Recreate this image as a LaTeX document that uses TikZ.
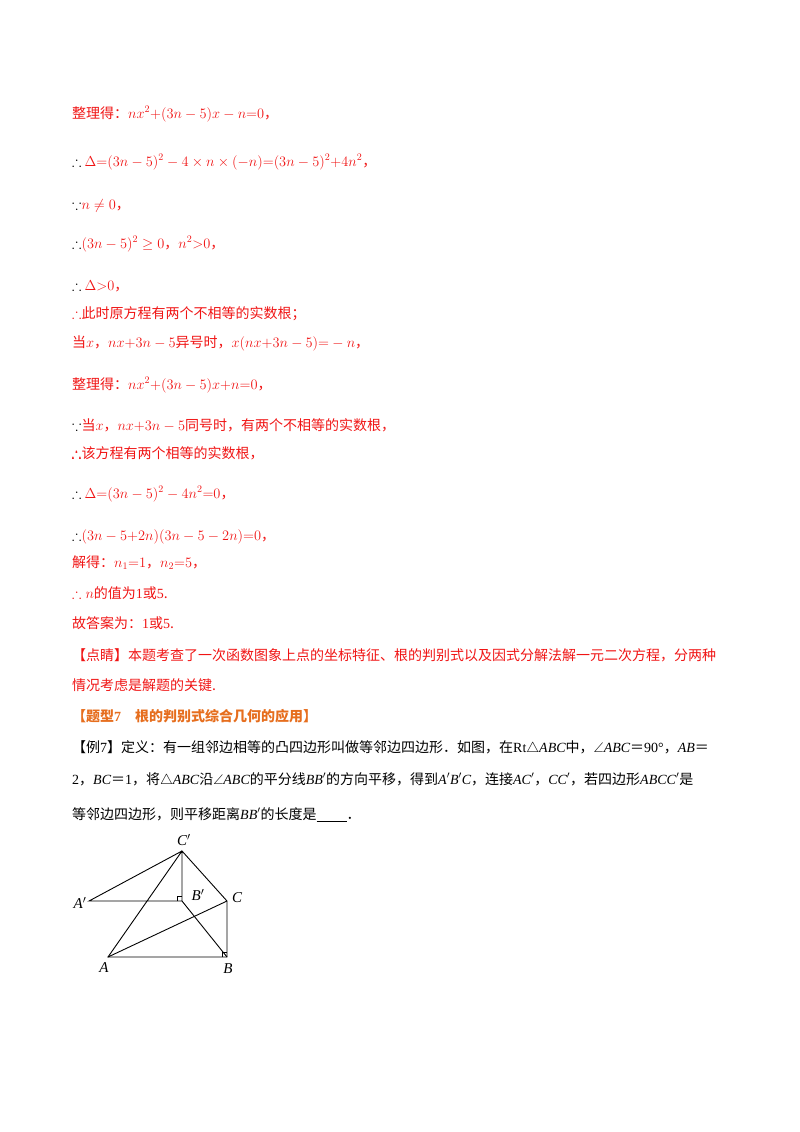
\documentclass[tikz,border=0pt]{standalone}
\usepackage{amssymb,amsmath}
\usepackage{fontspec}
\setmainfont{Liberation Serif}
\newfontfamily\cjk{Noto Sans CJK SC}
\definecolor{rd}{RGB}{240,20,20}
\definecolor{org}{RGB}{230,110,30}
\begin{document}
\begin{tikzpicture}[x=1pt,y=-1pt,
  t/.style={anchor=base west,inner sep=0pt,font=\fontsize{14}{16}\selectfont\cjk},
  lab/.style={inner sep=0pt,font=\fontsize{15}{16}\selectfont\itshape},
  geo/.style={line width=0.9pt}]
\useasboundingbox (0,0) rectangle (800,1132);
\node[t,text=rd] (l1) at (72,118) {整理得：$nx^2{+}(3n-5)x-n{=}0$，};
\node[t,text=rd] (l2) at (72,166) {\color{black}$\therefore$ \color{rd}$\Delta{=}(3n-5)^2-4\times n\times(-n){=}(3n-5)^2{+}4n^2$，};
\node[t,text=rd] (l3) at (72,209) {\color{black}$\because$\color{rd}$n\neq0$，};
\node[t,text=rd] (l4) at (72,248) {\color{black}$\therefore$\color{rd}$(3n-5)^2\geq0$，$n^2{>}0$，};
\node[t,text=rd] (l5) at (72,290) {\color{black}$\therefore$ \color{rd}$\Delta{>}0$，};
\node[t,text=rd] (l6) at (72,318) {$\therefore$此时原方程有两个不相等的实数根；};
\node[t,text=rd] (l7) at (72,347) {当$x$，$nx{+}3n-5$异号时，$x(nx{+}3n-5){=}-n$，};
\node[t,text=rd] (l8) at (72,389) {整理得：$nx^2{+}(3n-5)x{+}n{=}0$，};
\node[t,text=rd] (l9) at (72,430) {\color{black}$\because$\color{rd}当$x$，$nx{+}3n-5$同号时，有两个不相等的实数根，};
\node[t,text=rd] (l10) at (72,458) {$\pmb{\therefore}$该方程有两个相等的实数根，};
\node[t,text=rd] (l11) at (72,498) {\color{black}$\therefore$ \color{rd}$\Delta{=}(3n-5)^2-4n^2{=}0$，};
\node[t,text=rd] (l12) at (72,540) {\color{black}$\therefore$\color{rd}$(3n-5{+}2n)(3n-5-2n){=}0$，};
\node[t,text=rd] (l13) at (72,567) {解得：$n_1{=}1$，$n_2{=}5$，};
\node[t,text=rd] (l14) at (72,598) {$\therefore n$的值为{\rmfamily 1}或{\rmfamily 5}.};
\node[t,text=rd] (l15) at (72,628) {故答案为：{\rmfamily 1}或{\rmfamily 5}.};
\node[t,text=rd] (l16) at (72,660) {【点睛】本题考查了一次函数图象上点的坐标特征、根的判别式以及因式分解法解一元二次方程，分两种};
\node[t,text=rd] (l17) at (72,690) {情况考虑是解题的关键.};
\node[t,text=org,font=\fontsize{14}{16}\selectfont\cjk\bfseries] (l18) at (72,721) {【题型{\rmfamily 7}\quad 根的判别式综合几何的应用】};
\node[t] (l19) at (72,752) {【例{\rmfamily 7}】定义：有一组邻边相等的凸四边形叫做等邻边四边形．如图，在{\rmfamily Rt}$\triangle\mathit{ABC}$中，$\angle\mathit{ABC}$＝{\rmfamily 90°}，$\mathit{AB}$＝};
\node[t] (l20) at (72,784) {{\rmfamily 2}，$\mathit{BC}$＝{\rmfamily 1}，将$\triangle\mathit{ABC}$沿$\angle\mathit{ABC}$的平分线$\mathit{BB'}$的方向平移，得到$\mathit{A'B'C}$，连接$\mathit{AC'}$，$\mathit{CC'}$，若四边形$\mathit{ABCC'}$是};
\node[t] (l21) at (72,819) {等邻边四边形，则平移距离$\mathit{BB'}$的长度是\underline{\hspace{30pt}}．};
% figure
\coordinate (Cp) at (182,851);
\coordinate (Bp) at (182,901);
\coordinate (Ap) at (89,901);
\coordinate (C) at (227,901);
\coordinate (A) at (108,957);
\coordinate (B) at (227,957);
\draw[geo] (Cp)--(Ap)--(Bp)--(Cp)--(C)--(B)--(A)--(Cp);
\draw[geo] (A)--(C);
\draw[geo] (Bp)--(B);
\draw[line width=0.7pt] (177,901)--(177,896)--(182,896);
\draw[line width=0.7pt] (222,957)--(222,952)--(227,952);
\node[lab] (lCp) at (184,840) {C$'$};
\node[lab] (lAp) at (80,903) {A$'$};
\node[lab] (lBp) at (198,895) {B$'$};
\node[lab] (lC) at (237,898) {C};
\node[lab] (lA) at (104,968) {A};
\node[lab] (lB) at (228,969) {B};
\end{tikzpicture}
\end{document}
